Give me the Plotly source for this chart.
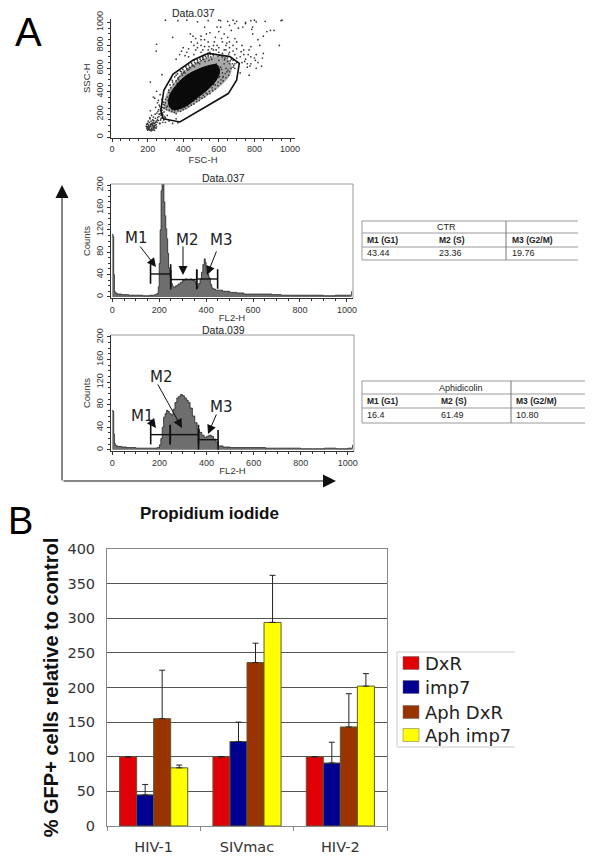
import plotly.graph_objects as go

W, H = 600, 865

# ---------- data ----------
GATE_FSC = [287, 381, 653, 700, 715, 662, 540, 456, 343, 291, 274, 287]
GATE_SSC = [161, 132, 380, 497, 643, 702, 731, 672, 550, 409, 234, 161]
HALO_FSC = [300, 310, 345, 390, 450, 520, 590, 640, 670, 660, 610, 540, 470, 400, 340, 300]
HALO_SSC = [250, 380, 460, 550, 620, 680, 700, 690, 620, 540, 450, 370, 300, 235, 215, 250]
CORE_FSC = [318, 325, 365, 415, 475, 535, 590, 604, 582, 540, 480, 430, 375, 335, 318]
CORE_SSC = [290, 370, 460, 535, 585, 620, 630, 570, 490, 420, 345, 285, 245, 245, 290]

LOW_CELLS = [(195,80),(200,60),(205,100),(210,70),(215,110),(220,55),(225,90),(230,130),(235,75),(240,120),
 (198,120),(208,95),(218,65),(228,150),(238,100),(248,140),(203,140),(213,160),(223,110),(233,85),(243,165),
 (253,130),(263,180),(273,150),(283,210),(293,250),(222,190),(242,200),(262,240),(282,170),(212,170),(232,175),
 (252,210),(272,230),(292,220),(245,260),(265,280),(285,260),(255,300),(275,190),(295,180),(235,120),(205,75),
 (225,60),(250,90),(270,120),(290,150),(300,170),(310,190),(320,140),(260,320),(280,330),(215,230),(240,340),
 (290,305),(305,240),(210,85),(220,120),(230,100),(200,90),(240,85),(255,150),(265,200),(275,250),(285,130),
 (215,480),(232,350),(280,545),(250,400),(270,370),(300,130),(340,120),(370,125),(360,160),
 (192,95),(197,72),(202,112),(207,84),(212,62),(217,98),(222,76),(227,108),(232,66),(237,92),(242,104),(247,78),
 (194,110),(199,85),(204,68),(209,128),(214,92),(219,140),(224,72),(229,118),(234,144),(239,60),(244,130),(249,110),
 (256,170),(261,145),(266,120),(271,205),(276,165),(281,235),(286,195),(291,165),(258,225),(268,265),(278,215),(288,285)]
RIM_CELLS = [(300,300),(310,350),(305,260),(320,390),(315,320),(330,430),(325,290),(345,460),(335,370),(350,400),
 (360,490),(345,340),(370,510),(355,430),(380,530),(365,470),(390,555),(375,500),(405,575),(395,540),(420,595),
 (410,560),(435,610),(425,585),(450,630),(440,605),(465,650),(455,625),(480,665),(470,640),(495,680),(485,650),
 (510,695),(500,665),(525,705),(515,680),(540,715),(530,690),(555,700),(545,670),(570,710),(560,680),(330,510),
 (360,540),(390,570),(420,600),(450,620),(480,650),(510,680),(540,700),(340,480),(372,520),(402,560),(432,590),
 (462,615),(492,640),(522,660),(340,240),(370,230),(400,240),(430,265),(460,290),(490,320),(520,350),(550,380),
 (580,420),(610,470),(640,520),(660,570),(680,610),(700,650),(350,215),(385,225),(415,250),(445,280),(475,310),
 (505,340),(535,375),(565,405),(595,450),(625,490),(655,540),(690,640),(600,520),(620,560),(640,600),(660,640),
 (680,670),(610,610),(630,640),(650,660),(670,680),(690,600),(360,205),(395,260),(430,300),(465,345),(500,385),
 (535,420),(570,460),(605,530),(585,640),(600,670),(615,590),(625,530),(635,690),(645,570),(575,560),(590,590),
 (318,410),(326,455),(338,495),(352,525),(368,553),(384,575),(398,590),(415,612),(430,628),(447,645),(462,668),
 (478,680),(492,695),(508,708),(520,718),(536,725),(552,722),(568,727),(585,720),(602,715),(618,700),(632,675),
 (648,690),(664,665),(676,640),(684,625),(668,600),(652,585),(636,555),(622,520),(612,500),(596,480),(580,455),
 (562,430),(546,400),(528,385),(512,365),(492,345),(476,330),(458,315),(440,300),(424,275),(406,262),(388,250),
 (370,240),(352,232),(336,225),(322,235),(312,270),(300,330),(296,280),(292,255)]
UPPER_CELLS = [(250,810),(248,750),(340,870),(440,900),(455,880),(480,820),(470,860),(500,880),(520,850),(545,790),
 (575,830),(590,960),(600,920),(560,770),(530,900),(500,800),(470,760),(445,830),(420,740),(400,780),(380,720),
 (360,680),(540,760),(610,960),(630,900),(650,870),(670,930),(690,860),(710,950),(730,800),(750,990),(770,760),
 (790,900),(810,720),(830,800),(850,880),(870,920),(890,930),(910,930),(940,800),(820,650),(780,700),(740,760),
 (700,830),(660,780),(620,830),(580,870),(540,830),(500,740),(460,720),(430,770),(410,710),(390,750),(480,780),
 (510,760),(540,730),(570,760),(600,780),(630,760),(660,740),(690,720),(720,700),(750,680),(780,640),(810,600),
 (840,620),(760,610),(700,770),(640,800),(590,800),(730,650),(770,540),(800,690),(850,730),(720,560),(760,640),
 (640,760),(680,800),(620,730),(660,830),(700,690),(740,720),(780,790),(820,850),(600,740),(570,800),(500,850),
 (520,790),(550,910),(585,760),(615,860),(645,820),(680,750),(520,960),(480,1005),(610,1015),(650,1010),(700,1010),
 (750,1000),(780,1015),(790,960),(810,1005),(955,1020),(950,1015),(860,1010),(800,1020),(680,1020),(600,1020),
 (540,1015),(420,1020),(370,1015),(300,1020),(660,975),(690,990),(735,960),(785,940),(565,725),(595,705),(625,710),
 (655,725),(725,745),(745,660),(775,620),(805,670),(765,720),(845,690),(460,800),(510,710),(550,740),(430,700)]

FL2_CTR = [0,3,6,9,12,20,40,70,100,130,160,180,190,196,200,204,208,212,216,220,224,228,232,236,240,245,250,256,262,
 270,280,290,300,310,320,330,340,350,356,362,368,374,380,386,392,396,400,406,412,418,424,430,440,450,470,500,530,
 560,600,640,680,720,760,800,850,900,950,1000,1016,1020]
COUNTS_CTR = [112,108,40,10,7,5,4,3,3,2,3,4,6,18,60,120,190,215,205,170,145,122,104,78,52,36,24,19,17,20,23,26,30,
 32,31,32,30,28,22,17,24,32,44,58,68,62,44,40,34,22,16,14,12,12,10,8,7,5,5,5,4,3,3,3,3,2,3,3,3,10]
FL2_APH = [0,3,6,9,12,16,24,40,60,100,150,190,200,206,212,218,224,230,236,242,250,258,266,274,282,290,298,306,314,
 322,330,340,350,360,370,380,390,400,410,420,430,440,450,470,500,550,600,650,700,750,800,850,900,950,1000,1016,1020]
COUNTS_APH = [70,68,28,12,9,7,6,5,4,3,3,4,9,20,40,58,64,70,68,64,62,72,84,92,95,98,96,92,88,
 84,74,60,48,36,31,26,22,24,26,24,19,14,7,5,4,4,4,3,3,3,2,2,3,2,3,3,9]

CTR_M_X = [[163, 249], [249, 360], [360, 449]]
CTR_M_Y = [41, 31, 32]
APH_M_X = [[163, 246], [246, 366], [366, 449]]
APH_M_Y = [27, 27, 18]

TABLE_HEAD = ["M1 (G1)", "M2 (S)", "M3 (G2/M)"]
CTR_ROW = ["43.44", "23.36", "19.76"]
APH_ROW = ["16.4", "61.49", "10.80"]

VIRUSES = ["HIV-1", "SIVmac", "HIV-2"]
SERIES = ["DxR", "imp7", "Aph DxR", "Aph imp7"]
COLORS = ["#E00008", "#000090", "#993300", "#FFFF00"]
DXR = [100, 100, 100]
IMP7 = [45, 122, 91]
APH_DXR = [155, 236, 143]
APH_IMP7 = [84, 294, 202]
ERR_DXR = [0, 0, 0]
ERR_IMP7 = [15, 28, 30]
ERR_APH_DXR = [70, 28, 48]
ERR_APH_IMP7 = [4, 68, 18]

# ---------- helpers ----------
px = lambda x: x / W
py = lambda y: 1 - y / H
FLOW = "Liberation Sans"
annots, shapes = [], []


def text(x, y, s, size, font=FLOW, color="#222", bold=False, anchor="center", angle=0):
    annots.append(dict(x=px(x), y=py(y), xref="paper", yref="paper", text=f"<b>{s}</b>" if bold else s,
                       showarrow=False, xanchor=anchor, yanchor="middle", textangle=angle,
                       font=dict(family=font, size=size, color=color)))


def arrow(x0, y0, x1, y1, size=1.8, head=2, width=1.0):
    annots.append(dict(x=px(x1), y=py(y1), xref="paper", yref="paper", text="", showarrow=True,
                       ax=x0 - x1, ay=y0 - y1, axref="pixel", ayref="pixel", arrowhead=head, arrowsize=size,
                       arrowwidth=width, arrowcolor="#111"))


def line(x0, y0, x1, y1, color="#888", width=1):
    shapes.append(dict(type="line", xref="paper", yref="paper", x0=px(x0), y0=py(y0), x1=px(x1), y1=py(y1),
                       line=dict(color=color, width=width)))


def flow_axis(box, rng, along, title, standoff, angle=0):
    d = [px(box[0]), px(box[1])] if along == "x" else [py(box[1]), py(box[0])]
    return dict(domain=d, range=rng, showgrid=False, zeroline=False, showline=True, linecolor="#333",
                linewidth=1, ticks="outside", ticklen=3, tickcolor="#333", tickwidth=1, tickangle=angle,
                tickfont=dict(family=FLOW, size=9, color="#333"), title=dict(text=title, standoff=standoff,
                font=dict(family=FLOW, size=9.5, color="#333")), fixedrange=True)


fig = go.Figure()

# ---------- dot plot ----------
low_x, low_y = zip(*LOW_CELLS)
rim_x, rim_y = zip(*RIM_CELLS)
up_x, up_y = zip(*UPPER_CELLS)
fig.add_trace(go.Scatter(x=HALO_FSC, y=HALO_SSC, mode="lines", fill="toself", fillcolor="#a8a8a8",
                         line=dict(color="#a8a8a8", width=1, shape="spline"), xaxis="x", yaxis="y", showlegend=False))
fig.add_trace(go.Scatter(x=list(low_x) + list(rim_x) + list(up_x), y=list(low_y) + list(rim_y) + list(up_y),
                         mode="markers", marker=dict(color="#333", size=1.7), xaxis="x", yaxis="y", showlegend=False))
fig.add_trace(go.Scatter(x=CORE_FSC, y=CORE_SSC, mode="lines", fill="toself", fillcolor="#0a0a0a",
                         line=dict(color="#0a0a0a", width=1, shape="spline"), xaxis="x", yaxis="y", showlegend=False))
fig.add_trace(go.Scatter(x=GATE_FSC, y=GATE_SSC, mode="lines", line=dict(color="#111", width=1.6),
                         xaxis="x", yaxis="y", showlegend=False))

# ---------- histograms ----------
for xs, ys, xa, ya, mx, my in [(FL2_CTR, COUNTS_CTR, "x2", "y2", CTR_M_X, CTR_M_Y),
                               (FL2_APH, COUNTS_APH, "x3", "y3", APH_M_X, APH_M_Y)]:
    fig.add_trace(go.Scatter(x=xs, y=ys, mode="lines", fill="tozeroy", fillcolor="#6e6e6e",
                             line=dict(color="#222", width=0.8, shape="hv"), xaxis=xa, yaxis=ya, showlegend=False))
    for r, yv in zip(mx, my):
        fig.add_trace(go.Scatter(x=r, y=[yv, yv], mode="markers+lines", xaxis=xa, yaxis=ya, showlegend=False,
                                 line=dict(color="#111", width=1.4),
                                 marker=dict(symbol="line-ns", size=14, line=dict(color="#111", width=1.6))))

# ---------- bars ----------
for name, col, vals, errs in zip(SERIES, COLORS, [DXR, IMP7, APH_DXR, APH_IMP7],
                                 [ERR_DXR, ERR_IMP7, ERR_APH_DXR, ERR_APH_IMP7]):
    fig.add_trace(go.Bar(name=name, x=VIRUSES, y=vals, xaxis="x4", yaxis="y4", showlegend=False,
                         marker=dict(color=col, line=dict(color="#5a5a30", width=1)),
                         error_y=dict(type="data", array=errs, symmetric=False, arrayminus=[0, 0, 0],
                                      color="#222", thickness=1, width=3)))

# ---------- layout bits ----------
for s, x, y in [("Data.037", 193, 13), ("Data.037", 223, 178), ("Data.039", 223, 330)]:
    text(x, y, s, 10.5)
text(28, 32, "A", 40, color="#000")
text(20, 521, "B", 38, color="#000")
text(209, 513, "Propidium iodide", 17, bold=True, color="#111")

text(136, 238, "M1", 15, font="DejaVu Sans")
text(187, 240, "M2", 15, font="DejaVu Sans")
text(221, 240, "M3", 15, font="DejaVu Sans")
arrow(139, 245, 156, 267)
arrow(183, 245, 183, 275)
arrow(217, 250, 207, 275)
text(142, 416, "M1", 15, font="DejaVu Sans")
text(161, 377, "M2", 15, font="DejaVu Sans")
text(221, 407, "M3", 15, font="DejaVu Sans")
arrow(150, 420, 156, 428)
arrow(157, 383, 182, 428)
arrow(217, 413, 208, 434)

# big PI / axis arrows
arrow(62, 482, 62, 185, size=2.6)
arrow(62, 481, 336, 481, size=2.6)

# gray right/top of histogram frames
for l, t, r, b in [(111, 184, 353, 298), (111, 335, 354, 451)]:
    line(l, t, r, t, "#999")
    line(r, t, r, b, "#999")

# tables
for (l, r, ys, mid, cols, title, tx, row) in [
    (362, 578, [221, 233, 247, 260], 506, [365, 437, 510], "CTR", 446, CTR_ROW),
    (362, 585, [381, 394, 408, 423], 511, [365, 439, 514], "Aphidicolin", 461, APH_ROW)]:
    for y in ys:
        line(l, y, r, y, "#999")
    line(l, ys[0], l, ys[-1], "#999")
    line(mid, ys[0], mid, ys[-1], "#777")
    text(tx, (ys[0] + ys[1]) / 2, title, 9)
    for cx, h, v in zip(cols, TABLE_HEAD, row):
        text(cx, (ys[1] + ys[2]) / 2, h, 8.5, bold=True, anchor="left")
        text(cx, (ys[2] + ys[3]) / 2, v, 9, anchor="left")

# legend frame, swatches and names
line(397, 652, 515, 652, "#ccc")
line(397, 652, 397, 747, "#ccc")
line(397, 747, 515, 747, "#ccc")
for name, col, yc in zip(SERIES, COLORS, [663, 687, 712, 735]):
    shapes.append(dict(type="rect", xref="paper", yref="paper", x0=px(403), x1=px(419), y0=py(yc - 6.5), y1=py(yc + 6.5),
                       fillcolor=col, line=dict(color="#666", width=0.5)))
    text(423, yc, name, 18, font="DejaVu Sans", anchor="left")

bar_font = dict(family="DejaVu Sans", size=14.5, color="#333")
layout = dict(
    width=W, height=H, margin=dict(l=0, r=0, t=0, b=0, autoexpand=False), paper_bgcolor="white",
    plot_bgcolor="white", font=dict(family=FLOW), barmode="group", bargap=0.27, bargroupgap=0,
    annotations=annots, shapes=shapes, showlegend=False,
    xaxis=flow_axis((111, 295), [-6, 1028], "x", "FSC-H", 0),
    yaxis=flow_axis((19, 137.5), [-3, 1030], "y", "SSC-H", 3, -90),
    xaxis2=flow_axis((111, 353), [-5.5, 1026], "x", "FL2-H", 0),
    yaxis2=flow_axis((184, 298), [-2, 202], "y", "Counts", 3, -90),
    xaxis3=flow_axis((111, 354), [-5.5, 1026], "x", "FL2-H", 0),
    yaxis3=flow_axis((335, 451), [-2, 203.5], "y", "Counts", 3, -90),
    xaxis4=dict(domain=[px(107), px(387)], anchor="y4", tickson="boundaries", ticks="outside", ticklen=4,
                tickcolor="#888", showline=True, linecolor="#888", mirror=True, tickfont=bar_font,
                ticklabelstandoff=8, showgrid=False, fixedrange=True),
    yaxis4=dict(domain=[py(826), py(549)], anchor="x4", range=[0, 400], dtick=50, showgrid=True, gridcolor="#555",
                gridwidth=1, showline=True, linecolor="#888", mirror=True, ticks="", tickfont=bar_font, zeroline=False,
                ticklabelstandoff=8, fixedrange=True, title=dict(text="<b>% GFP+ cells relative to control</b>", standoff=3,
                font=dict(family=FLOW, size=20, color="#111"))),
)
for i, (a, b) in enumerate([("x", "y"), ("x2", "y2"), ("x3", "y3")]):
    xk = "xaxis" + a[1:]
    yk = "yaxis" + b[1:]
    layout[xk]["anchor"] = b
    layout[yk]["anchor"] = a
    layout[xk]["dtick"] = 200
    layout[yk]["dtick"] = 200 if i == 0 else 40
    layout[xk]["minor"] = dict(ticks="outside", ticklen=2, dtick=50, tickcolor="#333")
    layout[yk]["minor"] = dict(ticks="outside", ticklen=2, dtick=50 if i == 0 else 10, tickcolor="#333")
fig.update_layout(**layout)
fig.write_html("out.html", config=dict(displayModeBar=False),
               post_script="document.body.style.margin='0';document.documentElement.style.overflow='hidden';")
